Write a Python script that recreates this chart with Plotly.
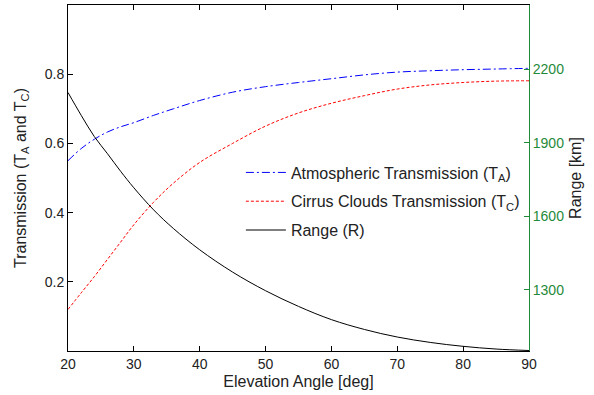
import plotly.graph_objects as go

angle = [20, 22, 24, 26, 28, 30, 33, 36, 40, 45, 50, 55, 60, 65, 70, 75, 80, 85, 90]
t_atm = [0.550, 0.585, 0.612, 0.633, 0.648, 0.660, 0.681, 0.700, 0.724, 0.748, 0.764,
         0.776, 0.787, 0.798, 0.806, 0.810, 0.813, 0.815, 0.817]
t_cirrus = [0.120, 0.168, 0.215, 0.265, 0.315, 0.365, 0.430, 0.485, 0.545, 0.600, 0.650,
            0.688, 0.716, 0.738, 0.757, 0.769, 0.776, 0.780, 0.781]
range_km = [2105, 2012, 1925, 1855, 1783, 1716, 1626, 1550, 1463, 1372, 1296,
            1232, 1178, 1138, 1107, 1085, 1069, 1058, 1052]

left_ticks = [0.2, 0.4, 0.6, 0.8]
right_ticks = [1300, 1600, 1900, 2200]
x_ticks = [20, 30, 40, 50, 60, 70, 80, 90]

GREEN = "#1f8a3a"
FONT = "Liberation Sans, Arial, sans-serif"

fig = go.Figure()
fig.add_trace(go.Scatter(x=angle, y=t_atm, mode="lines", name="Atmospheric Transmission (T<sub>A</sub>)",
                         legendgroup="a",
                         line=dict(color="#0000ff", width=1, dash="8px,3px,2px,3px"), line_shape="spline"))
fig.add_trace(go.Scatter(x=angle, y=t_cirrus, mode="lines", name="Cirrus Clouds Transmission (T<sub>C</sub>)",
                         legendgroup="b",
                         line=dict(color="#ff0000", width=1, dash="3px,2px"), line_shape="spline"))
fig.add_trace(go.Scatter(x=angle, y=range_km, mode="lines", name="Range (R)", yaxis="y2",
                         legendgroup="c",
                         line=dict(color="#000000", width=1), line_shape="spline"))

fig.update_layout(
    width=594, height=395,
    margin=dict(l=68, r=65, t=5, b=44),
    paper_bgcolor="white", plot_bgcolor="white",
    font=dict(family=FONT, size=14, color="#222222"),
    showlegend=True,
    legend=dict(x=0.375, y=0.565, xanchor="left", yanchor="top", bgcolor="rgba(0,0,0,0)",
                font=dict(size=16, color="#222222"), tracegroupgap=5, traceorder="grouped",
                itemwidth=40),
    xaxis=dict(range=[20, 90], tickvals=x_ticks, ticks="inside", ticklen=5, tickcolor="black",
               showline=True, linecolor="black", linewidth=1, mirror="ticks", showgrid=False, zeroline=False,
               title=dict(text="Elevation Angle [deg]", font=dict(size=16), standoff=5)),
    yaxis=dict(range=[0, 1], tickvals=left_ticks, tickformat=".1f", ticks="inside", ticklen=5, tickcolor="black",
               showline=True, linecolor="black", linewidth=1, showgrid=False, zeroline=False,
               title=dict(text="Transmission (T<sub>A</sub> and T<sub>C</sub>)", font=dict(size=16), standoff=14)),
    yaxis2=dict(range=[1050, 2462], tickvals=right_ticks, overlaying="y", side="right", ticks="inside",
                ticklen=5, tickcolor=GREEN, tickfont=dict(color=GREEN), showline=True, linecolor=GREEN,
                linewidth=1, showgrid=False, zeroline=False,
                title=dict(text="Range [km]", font=dict(size=16, color="#222222"), standoff=6)),
)

fig.write_html("out.html")
